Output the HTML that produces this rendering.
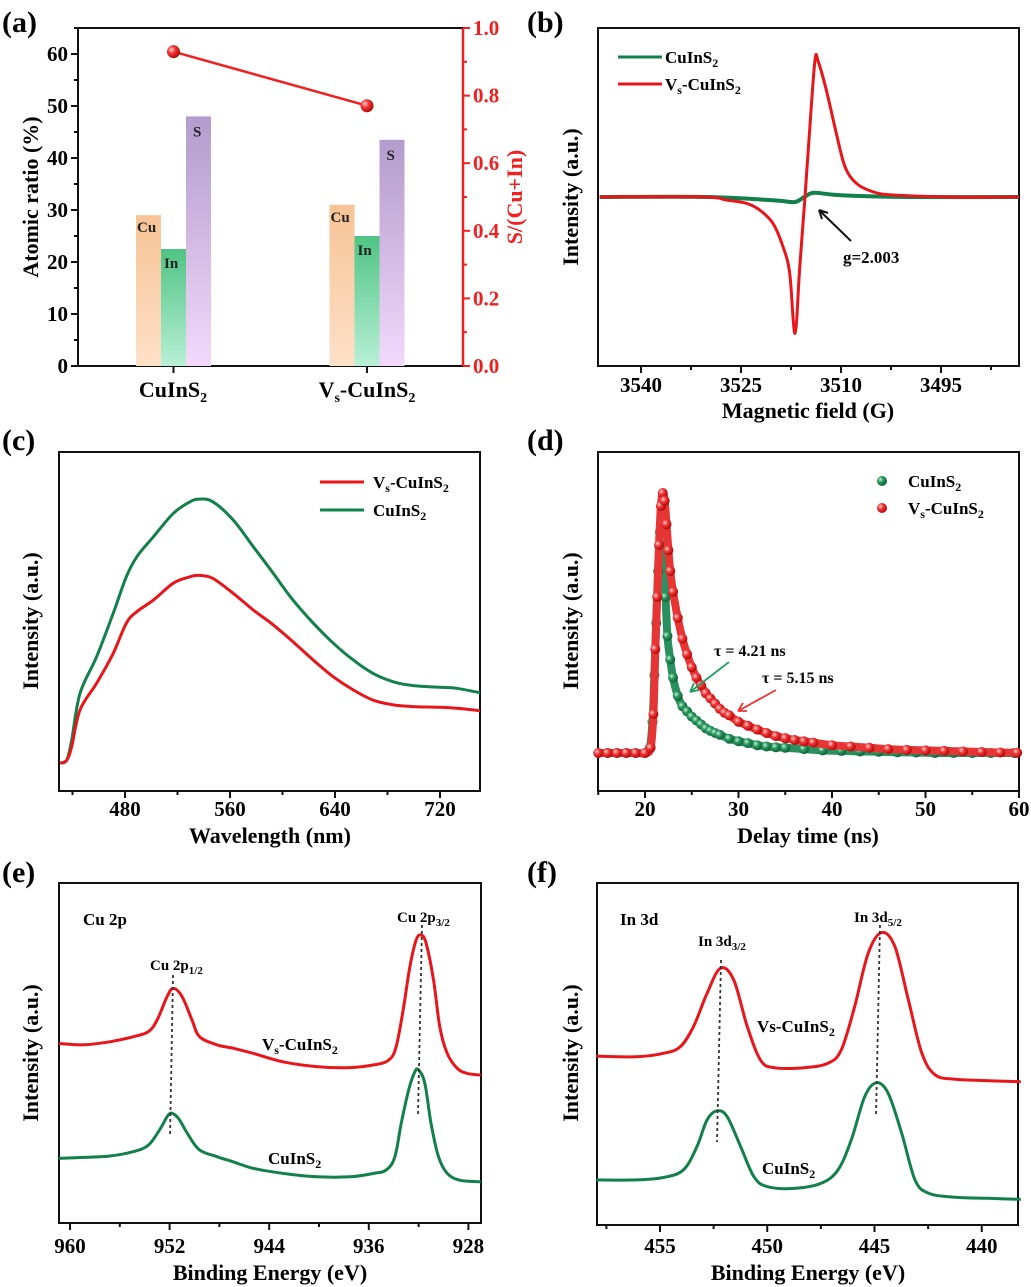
<!DOCTYPE html>
<html><head><meta charset="utf-8">
<style>
html,body{margin:0;padding:0;background:#fff;}
svg{display:block;font-family:"Liberation Serif",serif;font-weight:bold;}
</style></head>
<body>
<svg id="fig" width="1031" height="1287" viewBox="0 0 1031 1287" xmlns="http://www.w3.org/2000/svg">
<defs>
<linearGradient id="gCu" x1="0" y1="0" x2="0" y2="1"><stop offset="0" stop-color="#f7c395"/><stop offset="1" stop-color="#fde0c8"/></linearGradient>
<linearGradient id="gIn" x1="0" y1="0" x2="0" y2="1"><stop offset="0" stop-color="#4fc383"/><stop offset="1" stop-color="#b8f0d6"/></linearGradient>
<linearGradient id="gS" x1="0" y1="0" x2="0" y2="1"><stop offset="0" stop-color="#b39bcc"/><stop offset="1" stop-color="#f2d9fb"/></linearGradient>
<radialGradient id="gRed" cx="0.35" cy="0.35" r="0.7"><stop offset="0" stop-color="#ffd0d0"/><stop offset="0.4" stop-color="#f03a3a"/><stop offset="1" stop-color="#b00000"/></radialGradient>
<radialGradient id="gGrn" cx="0.35" cy="0.35" r="0.7"><stop offset="0" stop-color="#c8f0dc"/><stop offset="0.4" stop-color="#2a9a60"/><stop offset="1" stop-color="#0c5a32"/></radialGradient>
</defs>
<g id="layer"></g>
</svg>
<script>
// ---------- data ----------
const aCategories = ["CuInS2", "Vs-CuInS2"];
const aCu = [29, 31];
const aIn = [22.5, 25];
const aS = [48, 43.5];
const aRatio = [0.93, 0.77];
const aLeftTicks = [0,10,20,30,40,50,60];
const aRightTicks = [0.0,0.2,0.4,0.6,0.8,1.0];

const bField = [3546.2,3530.7,3527.2,3524.2,3522.2,3520.2,3518.7,3517.7,3516.9,3516.2,3515.4,3514.7,3513.9,3513.4,3512.2,3510.7,3509.4,3507.7,3505.2,3502.2,3493.2,3483.3];
const bVs = [0,0,-1.8,-3.7,-7.7,-15.6,-29.4,-45.1,-80.7,-42,0,40,81,80,63.3,37.7,17.9,8.1,3.1,1.2,0,0];
const bFieldG = [3546.2,3530,3520,3517,3515.5,3514,3510,3500,3483.3];
const bCuInS2 = [0,0,-2,-3,0,2.5,1,0,0];
const bTicks = [3540,3525,3510,3495];

const cWave = [430.5,435.6,439.4,445.7,458.4,471,481,489,501.6,516.8,529.5,537,547,562.5,577.7,593,608,623.5,638.7,654,669,684.4,699.7,720,732.7,750.5];
const cCuInS2 = [8.2,9.1,15,28.8,39.6,52.4,63.2,69.1,75,81.9,85.3,86.1,85.3,79.9,72.1,64.2,56.3,49.5,43.6,38.6,34.7,32.2,31.1,30.6,30.3,29];
const cVs = [8.2,9.1,13.1,23.9,31.8,40.6,49.5,52.9,56.3,61.3,63.2,63.6,62.7,58.3,53.4,49,44,38.6,33.7,29.8,26.8,25.4,24.9,24.7,24.4,23.7];
const cTicks = [480,560,640,720];

const dTimeG = [15,16,17,18,19,20,20.5,20.8,21,21.2,21.4,21.6,21.8,22,22.2,22.4,22.7,23,23.5,24,24.5,25,25.5,26,26.5,27,27.5,28,29,30,31,32,33,34,35,37,39,41,43,45,47,49,51,53,55,57,59.5];
const dCuInS2 = [0,0,0,0,0,0,0.02,0.12,0.3,0.5,0.7,0.85,0.94,0.82,0.6,0.45,0.36,0.29,0.22,0.18,0.16,0.14,0.125,0.11,0.095,0.085,0.077,0.07,0.055,0.045,0.038,0.03,0.025,0.022,0.02,0.015,0.01,0.008,0.006,0.005,0.003,0.002,0,0,0,0,0];
const dTimeR = [15,16,17,18,19,20,20.6,20.9,21.1,21.3,21.5,21.7,21.9,22.1,22.3,22.5,22.7,23,23.5,24,24.5,25,25.5,26,26.5,27,27.5,28,28.5,29,30,31,32,33,34,35,36,37,38,40,42,44,46,48,50,52,54,56,58,59.8];
const dVs = [0,0,0,0,0,0,0.02,0.15,0.4,0.6,0.8,0.95,1.0,0.97,0.88,0.78,0.7,0.62,0.52,0.44,0.38,0.33,0.29,0.26,0.23,0.21,0.19,0.17,0.155,0.145,0.12,0.105,0.09,0.077,0.065,0.057,0.05,0.045,0.04,0.03,0.025,0.02,0.015,0.012,0.01,0.008,0.006,0.004,0.002,0.001];
const dTicks = [20,30,40,50,60];

const eEnergy = [960.9,958.9,956.8,954.9,953.7,953.0,952.2,951.7,951.0,950.2,949.6,948.2,946.9,945.3,942.9,940.2,937.5,935.6,934.4,933.8,933.2,932.7,932.2,931.8,931.4,930.8,930.3,929.7,928.9,928.1,927.0];
const eVs = [52.8,52.4,53.3,54.8,56.3,59.7,66.6,69,66.6,59.7,54.8,52.4,51.4,49.9,47.4,46,45.7,46.5,47.9,51.9,63.6,75.4,83.2,84.7,82.3,71.5,57.7,49.9,45.5,44,43.5];
const eEnergyG = [960.9,958.9,956.8,954.9,953.7,952.8,952.1,951.7,951.2,950.5,949.6,948.2,946.9,945.3,942.9,940.2,937.5,935.6,934.6,933.9,933.4,932.8,932.3,932.0,931.5,931.0,930.4,929.7,928.7,927.0];
const eCuInS2 = [19,19.3,19.7,21,22.9,27.4,31.8,32.1,30.3,25.9,21.5,19.5,18,16.1,14.6,13.6,13.6,14.6,15.6,19.5,29.3,39.1,44.5,45,41.1,29.3,19.5,14.6,12.6,12.1];
const eTicks = [960,952,944,936,928];

const fEnergy = [457.97,456.09,454.84,454.06,453.44,452.81,452.18,451.56,450.93,450.31,449.68,448.27,447.17,446.55,445.93,445.3,444.67,444.05,443.42,442.79,442.17,441.23,439.67,438.18];
const fVs = [49.4,49.2,50.2,52.1,58,67.7,75.1,71.6,58,48.2,46,46,47.3,51.2,63.8,79.4,85.5,81.4,65.8,50.2,43.9,42.6,42.2,41.9];
const fEnergyG = [457.97,456.09,454.84,453.91,453.28,452.81,452.34,451.87,451.24,450.62,449.99,448.74,447.49,446.7,446.08,445.46,444.91,444.36,443.73,443.11,442.48,441.23,439.67,438.18];
const fCuInS2 = [13.2,13.2,13.9,16.1,22.9,30.7,33.4,31.7,22.9,14.1,11.2,10.7,12.2,16.1,24.9,37.5,41.6,38.5,26.8,13.2,9.3,8.1,7.8,7.5];
const fTicks = [455,450,445,440];

// ---------- scales ----------
const yA = v => 366 - v*5.2;
const yR = v => 366 - v*338;
const xB = f => 641 + (3540-f)*100/15;
const yB = v => 197 - v*1.69;
const xC = w => 125 + (w-480)*105/80;
const yC = v => 791 - v*3.39;
const xD = t => 645 + (t-20)*9.35;
const yD = v => 753 - v*260;
const xE = e => 70 + (960-e)*99.6/8;
const yE = v => 1223 - v*3.4;
const xF = e => 660 + (455-e)*21.45;
const yF = v => 1225 - v*3.42;

const NS = "http://www.w3.org/2000/svg";
const L = document.getElementById('layer');
function mk(tag, attrs, parent){ const e=document.createElementNS(NS,tag); for(const k in attrs) e.setAttribute(k,attrs[k]); (parent||L).appendChild(e); return e; }
function txt(x,y,s,size,opts){ const e=mk('text',Object.assign({x:x,y:y,'font-size':size},opts||{})); e.innerHTML=s; return e; }
function poly(xs,ys,fx,fy){ return xs.map((v,i)=>fx(v).toFixed(1)+','+fy(ys[i]).toFixed(1)).join(' '); }
function smooth(xs,ys,fx,fy){
  const p = xs.map((v,i)=>[fx(v),fy(ys[i])]);
  let d = 'M'+p[0][0].toFixed(1)+','+p[0][1].toFixed(1);
  for(let i=0;i<p.length-1;i++){
    const p0=p[Math.max(0,i-1)], p1=p[i], p2=p[i+1], p3=p[Math.min(p.length-1,i+2)];
    const c1=[p1[0]+(p2[0]-p0[0])/6, p1[1]+(p2[1]-p0[1])/6];
    const c2=[p2[0]-(p3[0]-p1[0])/6, p2[1]-(p3[1]-p1[1])/6];
    d += ' C'+c1[0].toFixed(1)+','+c1[1].toFixed(1)+' '+c2[0].toFixed(1)+','+c2[1].toFixed(1)+' '+p2[0].toFixed(1)+','+p2[1].toFixed(1);
  }
  return d;
}

// ---------- frames ----------
const frames = [[78,28,463,366,'a'],[598,28,1019,366,'b'],[59,452,480,791,'c'],[598,452,1019,791,'d'],[59,883,481,1223,'e'],[597,883,1018,1225,'f']];
frames.forEach(f=>{
  const r = mk('rect',{x:f[0],y:f[1],width:f[2]-f[0],height:f[3]-f[1],fill:'none',stroke:'#111','stroke-width':2});
  
  
});
[['(a)',2,32],['(b)',527,32],['(c)',2,450],['(d)',527,450],['(e)',2,882],['(f)',527,882]].forEach(p=>{
  const t = txt(p[1],p[2],p[0],30);
  
  
});

// ---------- panel a ----------
for(let v=0; v<=65; v+=5){
  const major = v%10===0;
  const t = mk('line',{x1:78,x2:major?71:74,y1:yA(v),y2:yA(v),stroke:'#111','stroke-width':2});
  
  
}
aLeftTicks.forEach(v=>{
  const t = txt(68,yA(v)+7,String(v),21,{'text-anchor':'end'});
  
  
});
for(let v=0; v<=1.0001; v+=0.1){
  const major = Math.round(v*10)%2===0;
  const t = mk('line',{x1:463,x2:major?470:467,y1:yR(v),y2:yR(v),stroke:'#f02020','stroke-width':2});
  
  
}
aRightTicks.forEach(v=>{
  const t = txt(473,yR(v)+7,v.toFixed(1),21,{fill:'#f02020'});
  
  
});
const aRightAxis = mk('line',{x1:463,x2:463,y1:28,y2:366,stroke:'#f02020','stroke-width':2.5});


const aCenters = [173.5, 367];
const barW = 25;
aCategories.forEach((c,i)=>{
  const cx = aCenters[i];
  const specs = [['Cu',aCu[i],'url(#gCu)',-1.5],['In',aIn[i],'url(#gIn)',-0.5],['S',aS[i],'url(#gS)',0.5]];
  specs.forEach(s=>{
    const x0 = cx + s[3]*barW;
    const b = mk('rect',{x:x0,y:yA(s[1]),width:barW,height:366-yA(s[1]),fill:s[2]});
    
    
    const lx = s[0]==='Cu' ? x0+1 : (s[0]==='In' ? x0+3 : x0+7);
    const ly = s[0]==='S' ? yA(s[1])+20 : (s[0]==='In' ? yA(s[1])+19 : yA(s[1])+17);
    const t = txt(lx,ly,s[0],15,{fill:'#222'});
    
    
  });
  const tk = mk('line',{x1:cx,x2:cx,y1:366,y2:373,stroke:'#111','stroke-width':2});
  
  
});
const aCat1 = txt(173,397,'CuInS<tspan font-size="14" dy="5">2</tspan>',22,{'text-anchor':'middle'});


const aCat2 = txt(367,397,'V<tspan font-size="14" dy="5">s</tspan><tspan dy="-5">-CuInS</tspan><tspan font-size="14" dy="5">2</tspan>',22,{'text-anchor':'middle'});


const aLine = mk('polyline',{points:aCenters.map((x,i)=>x+','+yR(aRatio[i]).toFixed(1)).join(' '),fill:'none',stroke:'#f02020','stroke-width':2.5});


aRatio.forEach((v,i)=>{
  const c = mk('circle',{cx:aCenters[i],cy:yR(v),r:6.5,fill:'url(#gRed)'});
  
  
});
const aYT = txt(0,0,'Atomic ratio (%)',22,{'text-anchor':'middle',transform:'translate(38,197) rotate(-90)'});


const aRT = txt(0,0,'S/(Cu+In)',22,{'text-anchor':'middle',fill:'#f02020',transform:'translate(522,197) rotate(-90)'});



// ---------- generic x ticks ----------
function xTicks(panel, ticks, minorStep, fx, y0, lo, hi, labelY){
  const a = Math.min(lo,hi), b = Math.max(lo,hi);
  for(let v=Math.ceil(a/minorStep)*minorStep; v<=b+1e-9; v+=minorStep){
    const major = ticks.some(t=>Math.abs(t-v)<1e-6);
    const t = mk('line',{x1:fx(v),x2:fx(v),y1:y0,y2:y0+(major?7:4),stroke:'#111','stroke-width':2});
    
    
  }
  ticks.forEach(v=>{
    const t = txt(fx(v),labelY,String(v),21,{'text-anchor':'middle'});
    
    
  });
}
xTicks('b',bTicks,7.5,xB,366,3483.3,3546.2,392);
xTicks('c',cTicks,40,xC,791,430,750,816);
xTicks('d',dTicks,5,xD,791,15,60,816);
xTicks('e',eTicks,4,xE,1223,927,960.9,1253);
xTicks('f',fTicks,2.5,xF,1225,438.2,458,1253);

function yTitle(x,y,name){ const t = txt(0,0,'Intensity (a.u.)',22,{'text-anchor':'middle',transform:'translate('+x+','+y+') rotate(-90)'});   }
yTitle(578,197,'b-y-axis-title');
yTitle(38,621,'c-y-axis-title');
yTitle(578,621,'d-y-axis-title');
yTitle(38,1053,'e-y-axis-title');
yTitle(578,1053,'f-y-axis-title');
function xTitle(x,y,s,name){ const t = txt(x,y,s,22,{'text-anchor':'middle'});   }
xTitle(808,418,'Magnetic field (G)','b-x-axis-title');
xTitle(270,843,'Wavelength (nm)','c-x-axis-title');
xTitle(808,843,'Delay time (ns)','d-x-axis-title');
xTitle(270,1280,'Binding Energy (eV)','e-x-axis-title');
xTitle(808,1280,'Binding Energy (eV)','f-x-axis-title');

const RED='#e8161b', GRN='#12804a';
const SUB2 = 'CuInS<tspan font-size="12" dy="4">2</tspan>';
const VSUB = 'V<tspan font-size="12" dy="4">s</tspan><tspan dy="-4">-CuInS</tspan><tspan font-size="12" dy="4">2</tspan>';

// ---------- panel b ----------
const bG = mk('path',{d:smooth(bFieldG,bCuInS2,xB,yB),fill:'none',stroke:GRN,'stroke-width':4,'stroke-linejoin':'round'});


const bR = mk('path',{d:smooth(bField,bVs,xB,yB),fill:'none',stroke:RED,'stroke-width':3,'stroke-linejoin':'round'});


const bL1 = mk('line',{x1:618,x2:662,y1:57,y2:57,stroke:GRN,'stroke-width':3});


const bL1t = txt(665,63,SUB2,17);


const bL2 = mk('line',{x1:618,x2:662,y1:84,y2:84,stroke:RED,'stroke-width':3});


const bL2t = txt(665,90,VSUB,17);


const bArrow = mk('path',{d:'M851,241 L819,210 M819,210 l3,9 M819,210 l9,3',fill:'none',stroke:'#111','stroke-width':2});


const bAnn = txt(843,263,'g=2.003',17);



// ---------- panel c ----------
const cG = mk('path',{d:smooth(cWave,cCuInS2,xC,yC),fill:'none',stroke:GRN,'stroke-width':3,'stroke-linejoin':'round'});


const cR = mk('path',{d:smooth(cWave,cVs,xC,yC),fill:'none',stroke:RED,'stroke-width':3,'stroke-linejoin':'round'});


const cL1 = mk('line',{x1:320,x2:364,y1:482,y2:482,stroke:RED,'stroke-width':3});


const cL1t = txt(373,488,VSUB,17);


const cL2 = mk('line',{x1:320,x2:364,y1:510,y2:510,stroke:GRN,'stroke-width':3});


const cL2t = txt(373,516,SUB2,17);



// ---------- panel d ----------
const dGB = mk('path',{d:smooth(dTimeG,dCuInS2,xD,yD),fill:'none',stroke:'#2a9060','stroke-width':8,'stroke-linejoin':'round','stroke-linecap':'round'});


dTimeG.forEach((t,i)=>{
  const c = mk('circle',{cx:xD(t),cy:yD(dCuInS2[i]),r:5,fill:'url(#gGrn)'});
  
  
});
const dRB = mk('path',{d:smooth(dTimeR,dVs,xD,yD),fill:'none',stroke:'#e53535','stroke-width':8,'stroke-linejoin':'round','stroke-linecap':'round'});


dTimeR.forEach((t,i)=>{
  const c = mk('circle',{cx:xD(t),cy:yD(dVs[i]),r:5,fill:'url(#gRed)'});
  
  
});
const dM1 = mk('circle',{cx:882,cy:481,r:5,fill:'url(#gGrn)'});


const dL1t = txt(908,487,SUB2,17);


const dM2 = mk('circle',{cx:882,cy:508,r:5,fill:'url(#gRed)'});


const dL2t = txt(908,514,VSUB,17);


const dA1 = txt(714,656,'τ = 4.21 ns',16);


const dA2 = txt(762,683,'τ = 5.15 ns',16);


const dAr1 = mk('path',{d:'M729,662 L690,692 M690,692 l4,-9 M690,692 l9,-2',fill:'none',stroke:'#20a060','stroke-width':1.8});


const dAr2 = mk('path',{d:'M776,690 L738,711 M738,711 l5,-8 M738,711 l9,0',fill:'none',stroke:'#f03030','stroke-width':1.8});



// ---------- panel e ----------
const eR = mk('path',{d:smooth(eEnergy,eVs,xE,yE),fill:'none',stroke:RED,'stroke-width':3,'stroke-linejoin':'round'});


const eG = mk('path',{d:smooth(eEnergyG,eCuInS2,xE,yE),fill:'none',stroke:GRN,'stroke-width':3,'stroke-linejoin':'round'});


const eD1 = mk('line',{x1:173,y1:975,x2:170,y2:1137,stroke:'#333','stroke-width':1.8,'stroke-dasharray':'3,3'});


const eD2 = mk('line',{x1:422,y1:925,x2:418,y2:1115,stroke:'#333','stroke-width':1.8,'stroke-dasharray':'3,3'});


const eT1 = txt(83,925,'Cu 2p',17);


const eT2 = txt(150,970,'Cu 2p<tspan font-size="11" dy="4">1/2</tspan>',15);


const eT3 = txt(397,922,'Cu 2p<tspan font-size="11" dy="4">3/2</tspan>',15);


const eT4 = txt(262,1050,VSUB,17);


const eT5 = txt(268,1164,SUB2,17);



// ---------- panel f ----------
const fR = mk('path',{d:smooth(fEnergy,fVs,xF,yF),fill:'none',stroke:RED,'stroke-width':3,'stroke-linejoin':'round'});


const fG = mk('path',{d:smooth(fEnergyG,fCuInS2,xF,yF),fill:'none',stroke:GRN,'stroke-width':3,'stroke-linejoin':'round'});


const fD1 = mk('line',{x1:721,y1:960,x2:717,y2:1142,stroke:'#333','stroke-width':1.8,'stroke-dasharray':'3,3'});


const fD2 = mk('line',{x1:880,y1:925,x2:876,y2:1117,stroke:'#333','stroke-width':1.8,'stroke-dasharray':'3,3'});


const fT1 = txt(620,925,'In 3d',17);


const fT2 = txt(698,946,'In 3d<tspan font-size="11" dy="4">3/2</tspan>',15);


const fT3 = txt(854,922,'In 3d<tspan font-size="11" dy="4">5/2</tspan>',15);


const fT4 = txt(757,1032,'Vs-CuInS<tspan font-size="12" dy="4">2</tspan>',17);


const fT5 = txt(762,1174,SUB2,17);


</script>
</body></html>
